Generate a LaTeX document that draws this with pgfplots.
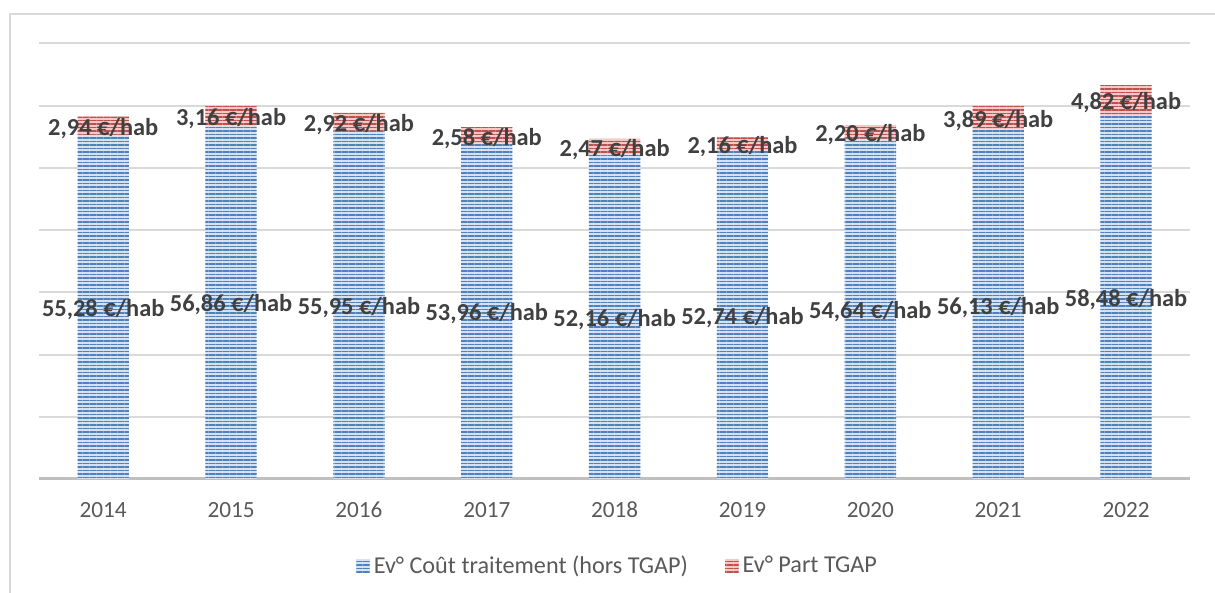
\documentclass[border=0pt]{standalone}
\usepackage{fontspec}
\setmainfont{Carlito}
\usepackage{pgfplots}
\usepackage{pgfplotstable}
\pgfplotsset{compat=1.18}
\usetikzlibrary{patterns.meta}

\definecolor{blueD}{HTML}{4F81BD}
\definecolor{blueL}{HTML}{D6E2F2}
\definecolor{redD}{HTML}{C0504D}
\definecolor{redL}{HTML}{F4C8C7}
\definecolor{gridgray}{HTML}{D9D9D9}
\definecolor{axgray}{HTML}{BFBFBF}
\definecolor{lblgray}{HTML}{404040}
\definecolor{tickgray}{HTML}{595959}

% cost per inhabitant, 2014-2022
\pgfplotstableread{
x cost tgap
0 55.28 2.94
1 56.86 3.16
2 55.95 2.92
3 53.96 2.58
4 52.16 2.47
5 52.74 2.16
6 54.64 2.20
7 56.13 3.89
8 58.48 4.82
}\costdata

% label positions (middle of each segment)
\pgfplotstableread[col sep=semicolon]{
x;y;lbl
0;27.64;55,28 €/hab
1;28.43;56,86 €/hab
2;27.975;55,95 €/hab
3;26.98;53,96 €/hab
4;26.08;52,16 €/hab
5;26.37;52,74 €/hab
6;27.32;54,64 €/hab
7;28.065;56,13 €/hab
8;29.24;58,48 €/hab
0;56.75;2,94 €/hab
1;58.44;3,16 €/hab
2;57.41;2,92 €/hab
3;55.25;2,58 €/hab
4;53.395;2,47 €/hab
5;53.82;2,16 €/hab
6;55.74;2,20 €/hab
7;58.075;3,89 €/hab
8;60.89;4,82 €/hab
}\lbldata

\pgfplotsset{
  base/.style={
    scale only axis, width=575.35pt, height=217.85pt,
    xmin=-0.5, xmax=8.5, ymin=0, ymax=70,
    at={(19.65pt,57pt)}, anchor=south west},
  sq legend/.style={legend image code/.code={\path[##1] (0pt,-3.4pt) rectangle (6.75pt,3.4pt);}},
}

\begin{document}
\begin{tikzpicture}[x=1pt,y=1pt]
\path[use as bounding box] (0,0) rectangle (607.5,296.5);
\draw[gridgray, line width=1pt] (5,-20) -- (5,289.5) -- (650,289.5);

\begin{axis}[base,
  ybar stacked, bar width=25.65pt,
  axis x line*=bottom, axis y line*=left,
  x axis line style={-, draw=axgray, line width=1.5pt},
  y axis line style={draw=none},
  xtick={0,1,2,3,4,5,6,7,8},
  xticklabels={2014,2015,2016,2017,2018,2019,2020,2021,2022},
  xtick style={draw=none}, ytick style={draw=none},
  xticklabel style={font=\fontsize{11.6}{13}\selectfont, text=tickgray, yshift=-8pt},
  ytick={10,20,30,40,50,60,70}, yticklabels={},
  ymajorgrids, grid style={gridgray, line width=1pt},
  sq legend,
  legend columns=2,
  legend style={at={(0.5034,-0.1997)}, anchor=center, draw=none, fill=none,
    font=\fontsize{12.1}{13}\selectfont, text=tickgray,
    cells={anchor=west},
    /tikz/every even column/.append style={column sep=16.5pt}},
]
\addplot[sq legend, fill=blueL, draw=none,
  postaction={pattern={Lines[angle=0,distance=1.75pt,line width=0.85pt]}, pattern color=blueD}]
  table[x=x, y=cost] {\costdata};
\addlegendentry{Ev° Coût traitement (hors TGAP)}
\addplot[sq legend, fill=redL, draw=none,
  postaction={pattern={Lines[angle=0,distance=1.75pt,line width=0.85pt]}, pattern color=redD}]
  table[x=x, y=tgap] {\costdata};
\addlegendentry{Ev° Part TGAP}
\end{axis}

\begin{axis}[base, hide axis, clip=false]
\addplot[draw=none, mark=none, nodes near coords, point meta=explicit symbolic,
  every node near coord/.append style={anchor=center, inner sep=0pt, yshift=-1.5pt,
    font=\fontsize{12.2}{14}\selectfont\bfseries, text=lblgray}]
  table[x=x, y=y, meta=lbl] {\lbldata};
\end{axis}
\end{tikzpicture}
\end{document}
